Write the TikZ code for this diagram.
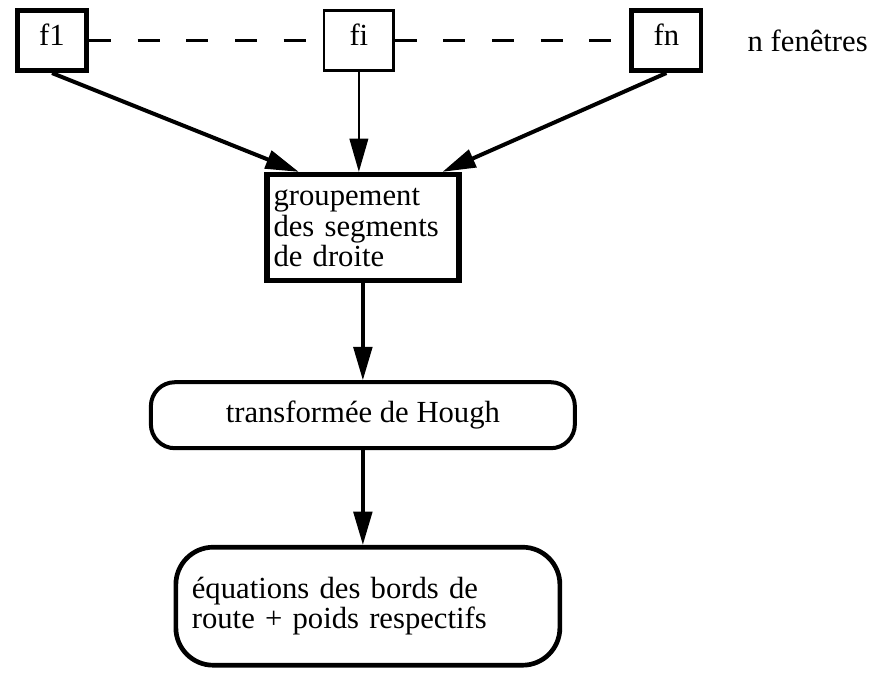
\documentclass[tikz,border=0pt]{standalone}
\usepackage{fontspec}
\setmainfont{Liberation Serif}
\usetikzlibrary{positioning,arrows.meta}
\tikzset{
  win/.style={rectangle, draw=black, line width=3.5pt, minimum width=52pt,
              minimum height=45pt, text depth=9pt, inner sep=2pt},
  winthin/.style={win, line width=1.8pt},
  blk/.style={rectangle, draw=black, line width=4pt, minimum width=144pt,
              minimum height=79.5pt, text width=134pt, inner xsep=5pt, align=left},
  rnd/.style={rectangle, rounded corners=18pt, draw=black, line width=3pt,
              minimum width=318pt, minimum height=49.5pt, align=center},
  rndb/.style={rectangle, rounded corners=28pt, draw=black, line width=3.5pt,
               minimum width=288pt, minimum height=88.5pt, text width=264pt,
               inner xsep=12pt, align=left},
  flowarr/.style={-{Triangle[length=25pt,width=14pt]}, line width=2.5pt},
  winlink/.style={line width=2.2pt, dash pattern=on 16.5pt off 20pt},
}
\begin{document}
\begin{tikzpicture}[font=\fontsize{23}{23}\selectfont, node distance=20pt]
\useasboundingbox (0,0) rectangle (660pt,-507pt);
\node[win] (f1) at (39pt,-30.5pt) {f1};
\node[winthin, right=175.5pt of f1] (fi) {fi};
\node[win, right=176pt of fi] (fn) {fn};
\node[inner sep=0pt, right=33pt of fn] (nwin) {n fenêtres};
\node[blk, below=75pt of fi, xshift=3pt] (grp) {groupement\\des segments\\de droite};
\node[rnd, below=72.75pt of grp] (hough) {transformée de Hough};
\node[rndb, below=71pt of hough, xshift=3.75pt] (eqs) {équations des bords de\\route + poids respectifs};
\draw[winlink] (f1) -- (fi);
\draw[winlink] (fi) -- (fn);
\draw[flowarr, line width=3pt] (f1.south) -- (grp.139);
\draw[flowarr, line width=1.5pt] (fi.south) -- (fi.south |- grp.north);
\draw[flowarr, line width=3pt] (fn.south) -- (grp.35);
\draw[flowarr] (grp) -- (hough);
\draw[flowarr] (hough.south) -- (hough.south |- eqs.north);
\end{tikzpicture}
\end{document}
